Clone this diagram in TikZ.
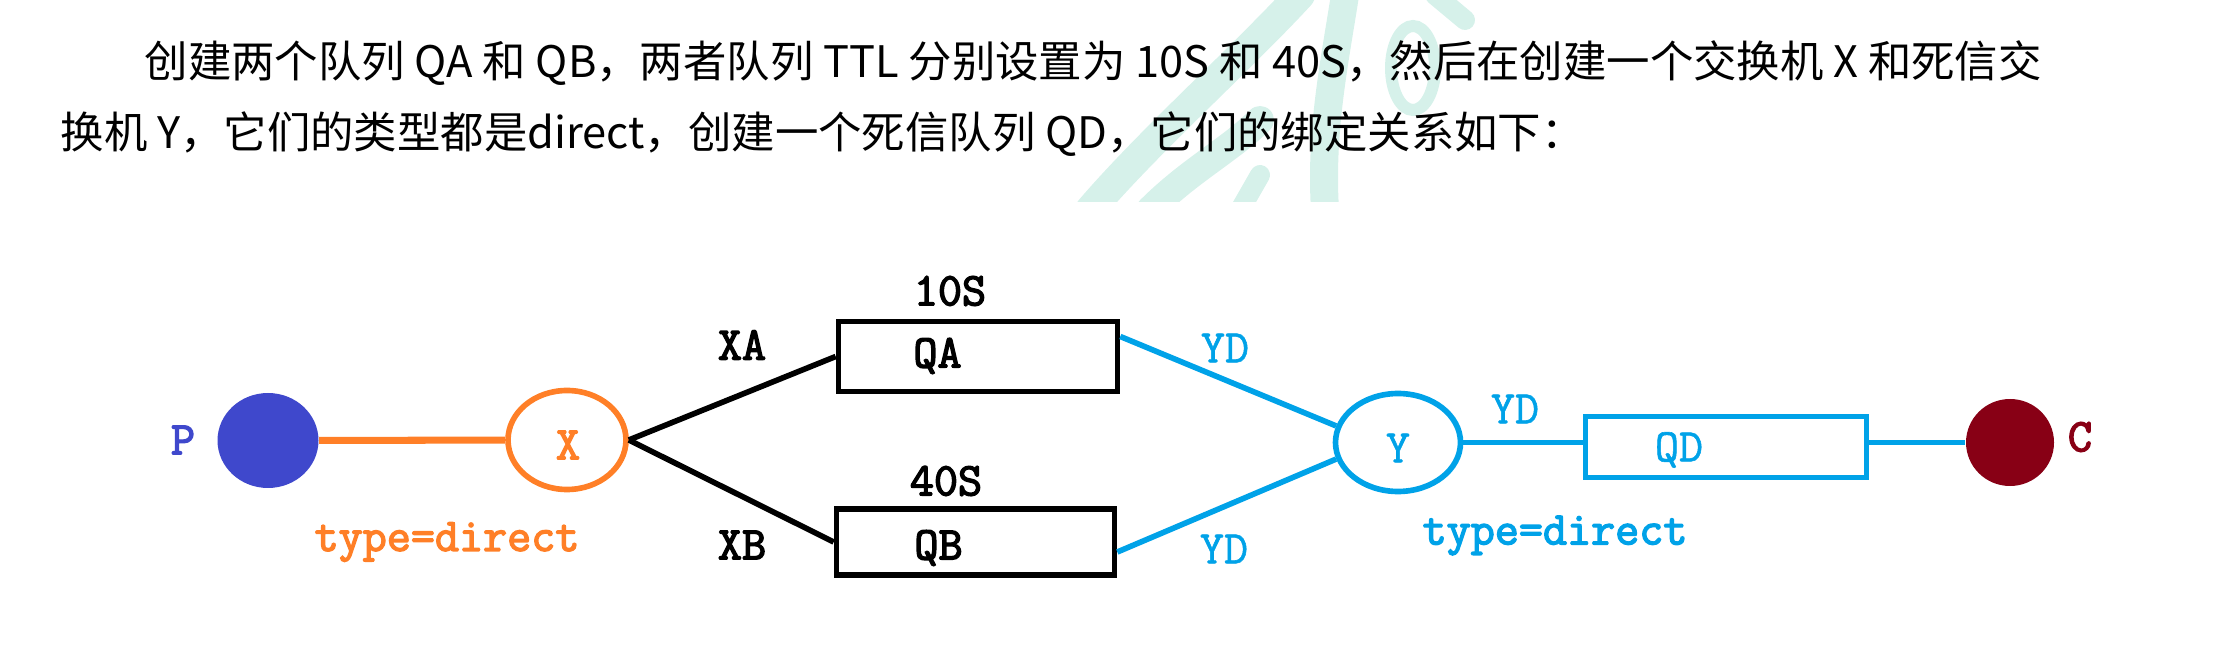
\documentclass[tikz,border=0pt]{standalone}
\usepackage{fontspec}
\newfontfamily\cjk{Noto Sans CJK SC}
\newfontfamily\monobold{Latin Modern Mono}[FakeBold=3]
\newfontfamily\monomid{Latin Modern Mono}[FakeBold=1.2]
\usetikzlibrary{shapes.geometric}

\definecolor{xorange}{RGB}{255,127,39}
\definecolor{pblue}{RGB}{63,72,204}
\definecolor{ycyan}{RGB}{0,162,232}
\definecolor{cred}{RGB}{136,0,21}
\definecolor{wmark}{RGB}{214,241,234}

\begin{document}
\begin{tikzpicture}[
      lbl/.style = {font=\monobold\fontsize{13.3pt}{15pt}\selectfont, inner sep=0pt},
      thin lbl/.style = {font=\monomid\fontsize{13.3pt}{15pt}\selectfont, inner sep=0pt},
      captext/.style = {anchor=base west, inner sep=0pt, font=\cjk\fontsize{12.35pt}{15pt}\selectfont},
      queue/.style = {draw, rectangle, line width=1.6pt, inner sep=0pt},
      exch/.style = {draw, ellipse, line width=1.6pt, inner sep=0pt},
      dot/.style = {ellipse, inner sep=0pt},
      wire/.style = {line width=1.6pt}]

  \useasboundingbox (0,0) rectangle (22.2,-6.53);

  % Watermark
  \begin{scope}
    \clip (10,0) rectangle (15.5,-2.02);
    \draw[wmark, line width=0.3cm, line cap=round] (10.90,-2.1) .. controls (11.5,-1.4) and (12.4,-0.6) .. (13.0,0.05);
    \draw[wmark, line width=0.28cm, line cap=round] (11.5,-2.1) .. controls (11.9,-1.7) and (12.3,-1.5) .. (12.6,-1.2);
    \draw[wmark, line width=0.28cm, line cap=round] (13.45,0.05) .. controls (13.35,-0.6) and (13.2,-1.3) .. (13.25,-2.1);
    \draw[wmark, line width=0.12cm] (14.13,-0.68) ellipse (0.22 and 0.42);
    \draw[wmark, line width=0.2cm, line cap=round] (14.35,0.05) -- (14.65,-0.2);
    \draw[wmark, line width=0.2cm, line cap=round] (12.4,-2.1) -- (12.6,-1.75);
  \end{scope}

  % Caption
  \node[captext] (line1) at (1.44,-0.78) {创建两个队列 QA 和 QB，两者队列 TTL 分别设置为 10S 和 40S，然后在创建一个交换机 X 和死信交};
  \node[captext] (line2) at (0.60,-1.49) {换机 Y，它们的类型都是direct，创建一个死信队列 QD，它们的绑定关系如下：};

  % Producer
  \node[dot, fill=pblue, minimum width=1.01cm, minimum height=0.95cm] (p) at (2.68,-4.405) {};
  \node[lbl, text=pblue] (pTxt) at (1.83,-4.40) {P};

  % Exchange X
  \node[exch, draw=xorange, minimum width=1.18cm, minimum height=0.99cm] (x) at (5.67,-4.40) {};
  \node[lbl, text=xorange] (xTxt) at (5.68,-4.45) {X};
  \node[lbl, text=xorange] (xType) at (4.47,-5.42) {type=direct};

  % Queues QA and QB
  \node[queue, minimum width=2.79cm, minimum height=0.70cm] (qa) at (9.78,-3.565) {};
  \node[lbl] (qaTxt) at (9.375,-3.56) {QA};
  \node[lbl] (qaTtl) at (9.50,-2.91) {10S};
  \node[queue, minimum width=2.78cm, minimum height=0.665cm] (qb) at (9.755,-5.42) {};
  \node[lbl] (qbTxt) at (9.385,-5.48) {QB};
  \node[lbl] (qbTtl) at (9.46,-4.81) {40S};

  % Dead letter exchange Y
  \node[exch, draw=ycyan, minimum width=1.25cm, minimum height=0.98cm] (y) at (13.98,-4.425) {};
  \node[thin lbl, text=ycyan] (yTxt) at (13.98,-4.48) {Y};
  \node[lbl, text=ycyan] (yType) at (15.55,-5.355) {type=direct};

  % Dead letter queue QD
  \node[queue, draw=ycyan, minimum width=2.81cm, minimum height=0.61cm] (qd) at (17.26,-4.47) {};
  \node[thin lbl, text=ycyan] (qdTxt) at (16.79,-4.50) {QD};

  % Consumer
  \node[dot, fill=cred, minimum width=0.88cm, minimum height=0.87cm] (c) at (20.10,-4.425) {};
  \node[lbl, text=cred] (cTxt) at (20.80,-4.37) {C};

  % Bindings
  \draw[xorange, line width=2pt] (p) -- (x);
  \draw[wire] (x.east) -- (qa.west);
  \draw[wire] (x.east) -- (qb.west);
  \node[lbl] (xa) at (7.42,-3.45) {XA};
  \node[lbl] (xb) at (7.42,-5.45) {XB};
  \draw[wire, ycyan] ([yshift=2mm]qa.east) -- (y.165);
  \draw[wire, ycyan] ([yshift=-1mm]qb.east) -- (y.195);
  \draw[wire, ycyan] (y.east) -- (qd.west |- y.east);
  \draw[wire, ycyan] (qd.east |- c.west) -- (c.west);
  \node[thin lbl, text=ycyan] (ydA) at (12.25,-3.48) {YD};
  \node[thin lbl, text=ycyan] (ydB) at (12.24,-5.49) {YD};
  \node[thin lbl, text=ycyan] (ydC) at (15.15,-4.09) {YD};

\end{tikzpicture}
\end{document}
